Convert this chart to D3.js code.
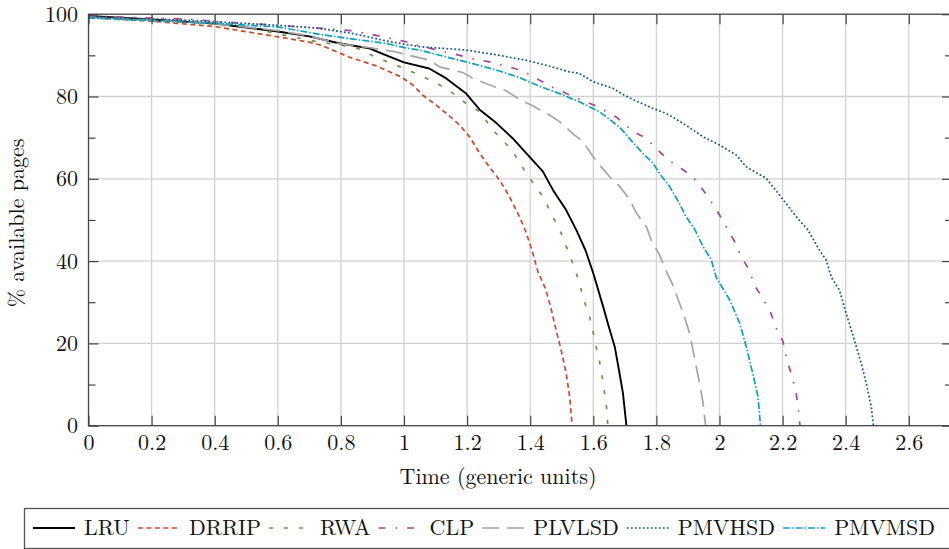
<!DOCTYPE html>
<html>
<head>
<meta charset="utf-8">
<script src="https://cdn.jsdelivr.net/npm/d3@7/dist/d3.min.js"></script>
<style>
  html, body { margin: 0; padding: 0; background: #fff; }
  svg { display: block; }
  text { font-family: "Latin Modern Roman", "Liberation Serif", serif; fill: #111; }
</style>
</head>
<body>
<svg id="chart" width="949" height="549"></svg>
<script>
// Series names and tick values
const seriesNames = ["LRU", "DRRIP", "RWA", "CLP", "PLVLSD", "PMVHSD", "PMVMSD"];
const xTicks = [0, 0.2, 0.4, 0.6, 0.8, 1, 1.2, 1.4, 1.6, 1.8, 2, 2.2, 2.4, 2.6];
const yTicks = [0, 20, 40, 60, 80, 100];
const yMinorTicks = [10, 30, 50, 70, 90];

// [time, % available pages]
const lru = [[0,99.6],[0.2,98.7],[0.4,97.7],[0.6,95.8],[0.7,94.6],[0.79,93],[0.89,91.7],[0.95,89.8],[1.0,88.3],[1.08,86.8],[1.134,84.4],[1.197,80.7],[1.24,76.8],[1.292,73.6],[1.345,69.8],[1.388,66.2],[1.44,61.8],[1.472,57.3],[1.514,52.4],[1.546,47.6],[1.575,42.7],[1.601,36.8],[1.631,29],[1.652,23.3],[1.668,19.2],[1.683,12.8],[1.694,7.9],[1.705,0]];
const drrip = [[0,99.2],[0.2,98.3],[0.4,97],[0.6,94.5],[0.7,93.2],[0.74,92.4],[0.825,89.6],[0.91,87.5],[0.99,84.8],[1.028,82.8],[1.06,80.3],[1.102,77.9],[1.134,75.9],[1.176,73.1],[1.208,70.2],[1.24,66.2],[1.27,62.9],[1.303,59.7],[1.334,55.7],[1.366,50.8],[1.388,46.8],[1.409,41.8],[1.424,37.5],[1.45,33],[1.467,28.2],[1.482,23.3],[1.498,18.4],[1.514,12.8],[1.525,7.1],[1.533,0]];
const rwa = [[0,99.2],[0.2,98.5],[0.4,97.6],[0.5,97],[0.6,95.2],[0.74,93.1],[0.845,92],[0.92,89.2],[0.964,88],[1.0,86.8],[1.05,85.2],[1.134,82],[1.197,78.3],[1.24,76.3],[1.282,71.8],[1.313,69.4],[1.345,66.6],[1.388,61.3],[1.414,58.5],[1.44,55.7],[1.477,50],[1.498,46.8],[1.53,40.5],[1.546,37.1],[1.572,30.2],[1.588,26.5],[1.599,22.9],[1.609,19.2],[1.62,15.6],[1.628,12],[1.636,7.9],[1.643,3.9],[1.646,0]];
const clp = [[0,99.5],[0.06,99.4],[0.32,98.8],[0.44,98],[0.58,97.4],[0.73,96.6],[0.83,96],[0.89,95.2],[1.007,93.3],[1.049,92.3],[1.155,90.4],[1.218,89.2],[1.271,88.4],[1.324,87.4],[1.377,86.2],[1.419,84.4],[1.472,82.2],[1.556,79.3],[1.609,77.7],[1.673,75],[1.726,71.5],[1.768,69.8],[1.805,67],[1.837,64.6],[1.879,62.5],[1.916,60.4],[1.948,57.3],[1.974,54.4],[2.0,51.2],[2.024,48],[2.048,44.7],[2.069,41.1],[2.096,37.6],[2.11,34.2],[2.137,31],[2.161,27.7],[2.18,23.7],[2.201,20.5],[2.214,16],[2.23,12],[2.243,7.9],[2.251,3.3],[2.255,0]];
const plvlsd = [[0,99.3],[0.2,98.6],[0.4,97.7],[0.6,96],[0.7,94.7],[0.79,92.9],[0.888,91.9],[0.97,90.9],[1.081,88.8],[1.113,87.2],[1.187,85.8],[1.218,84.4],[1.282,82.5],[1.324,81.4],[1.366,79.3],[1.409,77.7],[1.461,75.5],[1.493,73.9],[1.535,71],[1.567,69],[1.599,65.4],[1.625,62.9],[1.652,60.5],[1.684,58.1],[1.715,55],[1.737,51.6],[1.768,48.4],[1.784,45.1],[1.81,41.5],[1.831,37.6],[1.852,34.2],[1.873,29.8],[1.889,26.5],[1.905,22.5],[1.916,18.4],[1.926,14.4],[1.937,10.4],[1.948,5.5],[1.956,0]];
const pmvhsd = [[0,99.3],[0.3,98.6],[0.44,98],[0.6,97.3],[0.73,96.6],[0.838,95.3],[0.944,93.5],[1.049,92.1],[1.197,91.3],[1.303,90],[1.387,88.8],[1.45,87.6],[1.524,86],[1.556,85.6],[1.599,83.6],[1.662,82],[1.694,80.5],[1.736,78.9],[1.789,77.1],[1.831,75.9],[1.884,73.5],[1.948,70.2],[2.0,68.2],[2.053,65.8],[2.085,62.9],[2.148,60.1],[2.19,56.1],[2.243,50.8],[2.28,47.6],[2.318,42.5],[2.338,40.3],[2.355,36],[2.38,33],[2.401,27.4],[2.423,22],[2.449,15.2],[2.465,10.4],[2.481,4.7],[2.488,0]];
const pmvmsd = [[0,99.1],[0.2,98.4],[0.4,97.8],[0.6,96.9],[0.74,95],[0.845,93.9],[0.944,92.9],[1.005,91.8],[1.049,91.3],[1.134,89.6],[1.218,88],[1.303,86.2],[1.366,84.6],[1.429,82.5],[1.493,80.7],[1.556,78.7],[1.62,76.3],[1.684,72.5],[1.726,68.8],[1.757,66.2],[1.789,63.8],[1.81,61.3],[1.842,58.1],[1.868,54.7],[1.894,50.8],[1.921,47.8],[1.948,43.5],[1.974,40.3],[1.99,36],[2.032,30.6],[2.064,24.9],[2.085,19.2],[2.106,12.5],[2.122,7.1],[2.13,0]];

const seriesData = [lru, drrip, rwa, clp, plvlsd, pmvhsd, pmvmsd];
const seriesColors = ["#000000", "#c94b2c", "#6c9446", "#a8429d", "#a5a5a5", "#0e5a8a", "#0aa3be"];
const seriesDash = ["none", "5,3.5", "4,11", "7,10,1.5,10", "17,8", "1.8,2.2", "7,2,1.5,2"];

const fontStack = '"Latin Modern Roman", "Liberation Serif", serif';
const svg = d3.select("#chart");
const plotLeft = 88.5, plotRight = 952, plotTop = 14.2, plotBottom = 425.7;
const x = d3.scaleLinear().domain([0, 2.737]).range([plotLeft, plotRight]);
const y = d3.scaleLinear().domain([0, 100]).range([plotBottom, plotTop]);
const fontSize = 22;

// grid
const grid = svg.append("g");
grid.selectAll("line.gx").data(xTicks.filter(d => d > 0)).join("line")
  .attr("x1", d => x(d)).attr("x2", d => x(d))
  .attr("y1", plotTop).attr("y2", plotBottom)
  .attr("stroke", "#d2d2d2").attr("stroke-width", 1.3);
grid.selectAll("line.gy").data(yTicks.filter(d => d > 0 && d < 100)).join("line")
  .attr("x1", plotLeft).attr("x2", plotRight)
  .attr("y1", d => y(d)).attr("y2", d => y(d))
  .attr("stroke", "#d2d2d2").attr("stroke-width", 1.3);

// curves
const line = d3.line().x(d => x(d[0])).y(d => y(d[1]));
svg.append("clipPath").attr("id", "plotclip")
  .append("rect").attr("x", plotLeft).attr("y", plotTop - 2)
  .attr("width", plotRight - plotLeft).attr("height", plotBottom - plotTop + 2);
const curves = svg.append("g").attr("clip-path", "url(#plotclip)");
seriesData.forEach((data, i) => {
  curves.append("path")
    .datum(data)
    .attr("d", line)
    .attr("fill", "none")
    .attr("stroke", seriesColors[i])
    .attr("stroke-width", i === 0 ? 1.9 : 1.7)
    .attr("stroke-dasharray", seriesDash[i])
    .attr("stroke-linejoin", "round");
});

// axes
const fmt = d => String(+d.toFixed(1));
const axisColor = "#444";
function styleAxis(g) {
  g.attr("font-family", null);
  g.select(".domain").remove();
  g.selectAll(".tick line").attr("stroke", axisColor).attr("stroke-width", 1.2);
  g.selectAll(".tick text")
    .style("font-family", fontStack)
    .style("font-size", fontSize + "px").attr("fill", "#111");
}
svg.append("g").attr("transform", `translate(0,${plotBottom})`)
  .call(d3.axisBottom(x).tickValues(xTicks).tickFormat(fmt).tickSizeInner(-10).tickSizeOuter(0).tickPadding(8.5))
  .call(styleAxis);
svg.append("g").attr("transform", `translate(0,${plotTop})`)
  .call(d3.axisTop(x).tickValues(xTicks).tickFormat("").tickSizeInner(-10).tickSizeOuter(0))
  .call(styleAxis);
svg.append("g").attr("transform", `translate(${plotLeft},0)`)
  .call(d3.axisLeft(y).tickValues(yTicks).tickFormat(fmt).tickSizeInner(-10).tickSizeOuter(0).tickPadding(10.5))
  .call(styleAxis);
svg.append("g").attr("transform", `translate(${plotLeft},0)`)
  .call(d3.axisLeft(y).tickValues(yMinorTicks).tickFormat("").tickSizeInner(-7).tickSizeOuter(0))
  .call(styleAxis);
svg.append("g").attr("transform", `translate(${plotRight},0)`)
  .call(d3.axisRight(y).tickValues(yTicks).tickFormat("").tickSizeInner(-10).tickSizeOuter(0))
  .call(styleAxis);
svg.append("g").attr("transform", `translate(${plotRight},0)`)
  .call(d3.axisRight(y).tickValues(yMinorTicks).tickFormat("").tickSizeInner(-7).tickSizeOuter(0))
  .call(styleAxis);

// frame
svg.append("rect")
  .attr("x", plotLeft).attr("y", plotTop).attr("width", plotRight - plotLeft).attr("height", plotBottom - plotTop)
  .attr("fill", "none").attr("stroke", axisColor).attr("stroke-width", 1.3);

// axis titles
svg.append("text")
  .attr("x", 498).attr("y", 484)
  .attr("text-anchor", "middle")
  .style("font-family", fontStack)
  .style("font-size", fontSize + "px")
  .text("Time (generic units)");
svg.append("text")
  .attr("transform", `translate(24,${(plotTop + plotBottom) / 2 + 3}) rotate(-90)`)
  .attr("text-anchor", "middle")
  .style("font-family", fontStack)
  .style("font-size", fontSize + "px")
  .text("% available pages");

// legend
const legend = svg.append("g");
legend.append("rect")
  .attr("x", 24.5).attr("y", 508.5).attr("width", 948).attr("height", 40)
  .attr("fill", "#fff").attr("stroke", "#555").attr("stroke-width", 1.3);
const sampleLen = 42, textGap = 9, legStart = 33, legEnd = 935, legY = 528;
const items = legend.selectAll("g.item").data(seriesNames).join("g");
items.append("line")
  .attr("x1", 0).attr("x2", sampleLen).attr("y1", legY).attr("y2", legY)
  .attr("stroke", (d, i) => seriesColors[i])
  .attr("stroke-width", (d, i) => i === 0 ? 1.9 : 1.7)
  .attr("stroke-dasharray", (d, i) => seriesDash[i]);
items.append("text")
  .attr("x", sampleLen + textGap).attr("y", legY + 7)
  .style("font-family", fontStack)
  .style("font-size", fontSize + "px")
  .text(d => d);
const widths = [];
items.select("text").each(function () { widths.push(this.getComputedTextLength()); });
const used = widths.reduce((s, w) => s + sampleLen + textGap + w, 0);
const spacing = (legEnd - legStart - used) / (seriesNames.length - 1);
let cursor = legStart;
items.each(function (d, i) {
  d3.select(this).attr("transform", `translate(${cursor},0)`);
  cursor += sampleLen + textGap + widths[i] + spacing;
});
</script>
</body>
</html>
